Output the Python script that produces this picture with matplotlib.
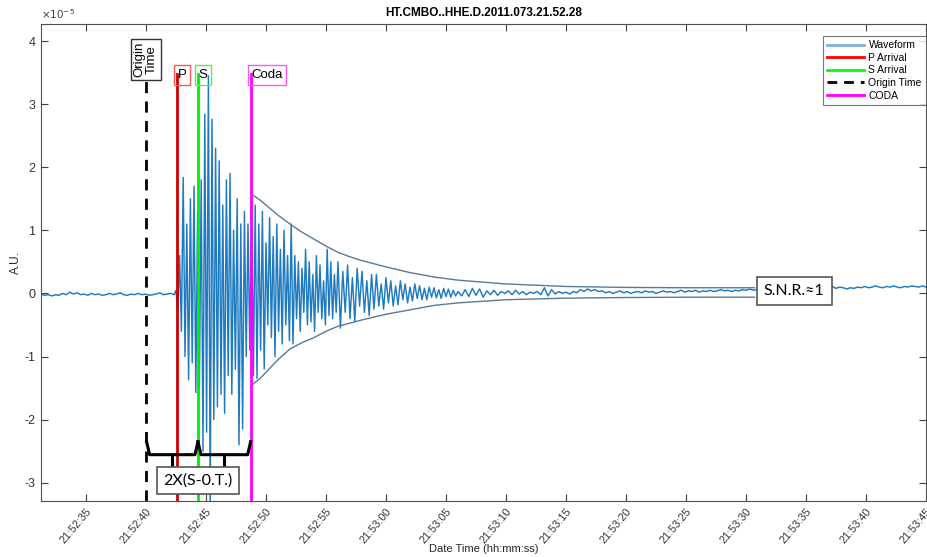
import numpy as np
import matplotlib
matplotlib.use("Agg")
import matplotlib.pyplot as plt
from matplotlib.lines import Line2D

plt.rcParams['font.family'] = ['Liberation Sans', 'DejaVu Sans']

# ---------------- data (amplitudes in units of 1e-5, time in s after 21:52:00) ----
title = "HT.CMBO..HHE.D.2011.073.21.52.28"
origin_time = 40.0
p_arrival = 42.6
s_arrival = 44.33
coda_time = 48.72

pre_start, pre_dt = 31.25, 0.3
pre_noise = [-0.01, -0.03, -0.02, -0.04, -0.02, -0.03, 0.0, -0.02, 0.02, -0.01,
             0.01, -0.02, -0.01, -0.03, 0.0, -0.02, -0.01, -0.03, -0.02, 0.0,
             -0.02, -0.01, 0.01, -0.02, -0.03, -0.01, -0.02, 0.0, -0.02, -0.01,
             -0.03, -0.02, -0.01, 0.01, -0.02, -0.01, 0.0, -0.02]

event_start, event_dt = 42.5, 0.15
event_wave = [0.05, -0.3, 0.6, -0.6, 1.84, -1.0, 1.1, -1.37, 1.5, -1.1,
              1.7, -1.57, 1.3, -1.5, 1.8, -2.5, 2.84, -2.2, 3.45, -3.45,
              2.76, -2.0, 2.3, -1.8, 2.1, -1.6, 1.4, -1.9, 1.8, -1.3,
              1.9, -1.6, 1.0, -1.2, 1.5, -2.4, 1.1, -2.15, 1.3, -1.0,
              1.1, -0.9, 1.5, -1.3, 1.4, -1.35, 1.1, -0.9, 1.3, -1.2,
              0.8, -0.5, 1.2, -0.7, 0.9, -1.0, 1.1, -0.6, 0.7, -0.8,
              1.0, -0.5, 0.6, -0.75, 1.1, -0.8, 0.6, -0.4, 0.5, -0.6,
              0.4, -0.3, 0.7, -0.5, 0.5, -0.45, 0.3, -0.6, 0.6, -0.3,
              0.45, -0.4, 0.2, -0.5, 0.7, -0.35, 0.5, -0.4, 0.3, -0.3]

coda_start, coda_dt = 56.0, 0.2
coda_wave = [0.5, -0.55, 0.35, -0.3, 0.45, -0.4, 0.25, -0.45, 0.4, -0.2,
             0.35, -0.3, 0.2, -0.35, 0.3, -0.25, 0.3, -0.2, 0.15, -0.25,
             0.25, -0.15, 0.2, -0.2, 0.12, -0.18, 0.2, -0.1, 0.15, -0.15,
             0.1, -0.12, 0.15, -0.08, 0.12, -0.1, 0.08, -0.1, 0.1, -0.06,
             0.09, -0.07, 0.06, -0.08, 0.08, -0.05, 0.07, -0.06, 0.05, -0.04]

post_start, post_dt = 66.0, 0.3
post_noise = [0.03, -0.04, 0.06, -0.05, 0.08, -0.03, 0.07, -0.06, 0.04, -0.02,
              0.05, -0.03, 0.03, 0.0, 0.04, -0.02, 0.05, -0.01, 0.03, -0.02,
              0.02, 0.0, 0.03, -0.02, 0.09, -0.04, 0.06, -0.01, 0.03, 0.0,
              0.02, -0.01, 0.03, 0.01, 0.06, 0.03, 0.07, 0.04, 0.06, 0.03,
              0.04, 0.01, 0.03, 0.0, 0.02, 0.04, 0.01, 0.03, 0.0, 0.02,
              0.03, 0.01, 0.04, 0.02, 0.03, 0.0, 0.02, 0.04, 0.02, 0.03,
              0.01, 0.03, 0.05, 0.02, 0.04, 0.03, 0.05, 0.02, 0.04, 0.03,
              0.05, 0.03, 0.04, 0.06, 0.04, 0.05, 0.03, 0.05, 0.04, 0.06,
              0.05, 0.07, 0.05, 0.06, 0.08, 0.06, 0.07, 0.05, 0.07, 0.06,
              0.08, 0.06, 0.07, 0.09, 0.07, 0.08, 0.06, 0.08, 0.07, 0.09,
              0.08, 0.1, 0.12, 0.09, 0.11, 0.08, 0.1, 0.09, 0.07, 0.09,
              0.08, 0.1, 0.09, 0.11, 0.09, 0.1, 0.12, 0.1, 0.09, 0.11,
              0.1, 0.12, 0.1, 0.09, 0.11, 0.1, 0.12, 0.11, 0.1, 0.12,
              0.1]

env_t = [48.83, 49.5, 50.0, 51.0, 52.0, 53.0, 54.0, 55.0, 56.0, 57.0, 58.0,
         60.0, 62.0, 64.0, 66.0, 70.0, 75.0, 80.0, 85.0, 90.7]
env_upper = [1.57, 1.48, 1.40, 1.24, 1.10, 0.97, 0.86, 0.75, 0.65, 0.58, 0.52,
             0.42, 0.33, 0.26, 0.21, 0.15, 0.11, 0.095, 0.09, 0.09]
env_lower = [-1.45, -1.35, -1.25, -1.05, -0.88, -0.78, -0.70, -0.60, -0.52, -0.47, -0.42,
             -0.33, -0.26, -0.19, -0.15, -0.10, -0.075, -0.065, -0.06, -0.06]

tick_seconds = list(range(35, 106, 5))
tick_labels = [f"21:{52 + s // 60}:{s % 60:02d}" for s in tick_seconds]
ytick_vals = [-3, -2, -1, 0, 1, 2, 3, 4]

# ---------------- figure ----------------
fig = plt.figure(figsize=(9.27, 5.57), dpi=100)
ax = fig.add_axes([41 / 927, 56 / 557, 885 / 927, 477 / 557])

def seg(start, dt, vals):
    return start + dt * np.arange(len(vals)), np.asarray(vals)

parts = [seg(pre_start, pre_dt, pre_noise), seg(event_start, event_dt, event_wave),
         seg(coda_start, coda_dt, coda_wave), seg(post_start, post_dt, post_noise)]
t = np.concatenate([p[0] for p in parts])
y = np.concatenate([p[1] for p in parts])

wave_color = '#1f7bc0'
ax.plot(t, y, color=wave_color, lw=1.05, zorder=2)
ax.plot(env_t, env_upper, color='#5a7898', lw=1.0, zorder=2)
ax.plot(env_t, env_lower, color='#5a7898', lw=1.0, zorder=2)

ymin, ymax = -3.29, 4.27
ax.plot([origin_time, origin_time], [ymin, 3.43], color='black', lw=2, ls=(0, (4, 3)), zorder=3)
ax.plot([p_arrival, p_arrival], [ymin, 3.48], color='#cc0000', lw=2, zorder=3)
ax.plot([s_arrival, s_arrival], [ymin, 3.48], color='#00ee00', lw=2, zorder=3)
ax.plot([coda_time, coda_time], [ymin, 3.48], color='#ff00ff', lw=2, zorder=3)

# labels for arrival lines
ax.text(origin_time, 3.71, "Origin\nTime", rotation=90, ha='center', va='center',
        fontsize=9.5, linespacing=1.05, zorder=5,
        bbox=dict(boxstyle='square,pad=0.22', fc='white', ec='#333333', lw=1))
ax.text(p_arrival + 0.05, 3.46, "P", ha='left', va='center', fontsize=9.5, zorder=5,
        bbox=dict(boxstyle='square,pad=0.28', fc='none', ec='#ff5555', lw=1))
ax.text(s_arrival + 0.05, 3.46, "S", ha='left', va='center', fontsize=9.5, zorder=5,
        bbox=dict(boxstyle='square,pad=0.28', fc='none', ec='#55ee55', lw=1))
ax.text(coda_time + 0.05, 3.46, "Coda", ha='left', va='center', fontsize=9.5, zorder=5,
        bbox=dict(boxstyle='square,pad=0.28', fc='none', ec='#ff55ff', lw=1))

# bracket 2X(S-O.T.)
yb, ytop, ytip = -2.556, -2.35, -2.76
def brace(x0, x1):
    xm = (x0 + x1) / 2
    ax.plot([x0, x0 + 0.25, x1 - 0.25, x1], [ytop, yb, yb, ytop], color='black', lw=2.2,
            solid_joinstyle='round', zorder=4)
    ax.plot([xm, xm], [yb, ytip], color='black', lw=2.2, zorder=4)
brace(origin_time + 0.05, s_arrival)
brace(s_arrival, coda_time)

ax.text(s_arrival, -2.97, "2X(S-0.T.)", ha='center', va='center', fontsize=11.5,
        family=['Lato', 'DejaVu Sans'], zorder=6,
        bbox=dict(boxstyle='square,pad=0.4', fc='white', ec='#555555', lw=1.2))
ax.text(94.0, 0.04, "S.N.R.\u22481", ha='center', va='center', fontsize=11.5,
        family=['Lato', 'DejaVu Sans'], zorder=6,
        bbox=dict(boxstyle='square,pad=0.45', fc='white', ec='#555555', lw=1.2))

# axes styling
ax.set_xlim(31.25, 105.0)
ax.set_ylim(ymin, ymax)
ax.set_xticks(tick_seconds)
ax.set_xticklabels(tick_labels, rotation=50, ha='right', va='top', rotation_mode='anchor',
                   fontsize=7.8, color='#333333')
ax.set_yticks(ytick_vals)
ax.set_yticklabels([str(v) for v in ytick_vals], fontsize=9, color='#333333')
ax.tick_params(direction='in', length=5, width=0.8, color='#404040', top=True, right=True,
               pad=4)
for sp in ax.spines.values():
    sp.set_color('#505050')
    sp.set_linewidth(0.8)

ax.set_title(title, fontsize=8.5, fontweight='bold', pad=6)
ax.set_xlabel("Date Time (hh:mm:ss)", fontsize=8, color='#262626', labelpad=-1)
ax.set_ylabel("A.U.", fontsize=8.5, color='#262626', labelpad=2)
ax.text(0.0, 1.006, r"$\times10^{-5}$", transform=ax.transAxes, fontsize=7.5,
        color='#404040', ha='left', va='bottom')

handles = [Line2D([], [], color='#7fb2dc', lw=2),
           Line2D([], [], color='#ff0000', lw=2),
           Line2D([], [], color='#00ff00', lw=2),
           Line2D([], [], color='black', lw=2, ls=(0, (3.5, 2.5))),
           Line2D([], [], color='#ff00ff', lw=2)]
leg = ax.legend(handles, ["Waveform", "P Arrival", "S Arrival", "Origin Time", "CODA"],
                loc='upper right', bbox_to_anchor=(1.0, 1 - 12 / 477), borderaxespad=0,
                fontsize=7.5, frameon=True, fancybox=False, handlelength=3.6,
                handletextpad=0.4, labelspacing=0.25, borderpad=0.4)
leg.get_frame().set_edgecolor('#555555')
leg.get_frame().set_linewidth(0.8)

fig.savefig("out.png", dpi=100)
